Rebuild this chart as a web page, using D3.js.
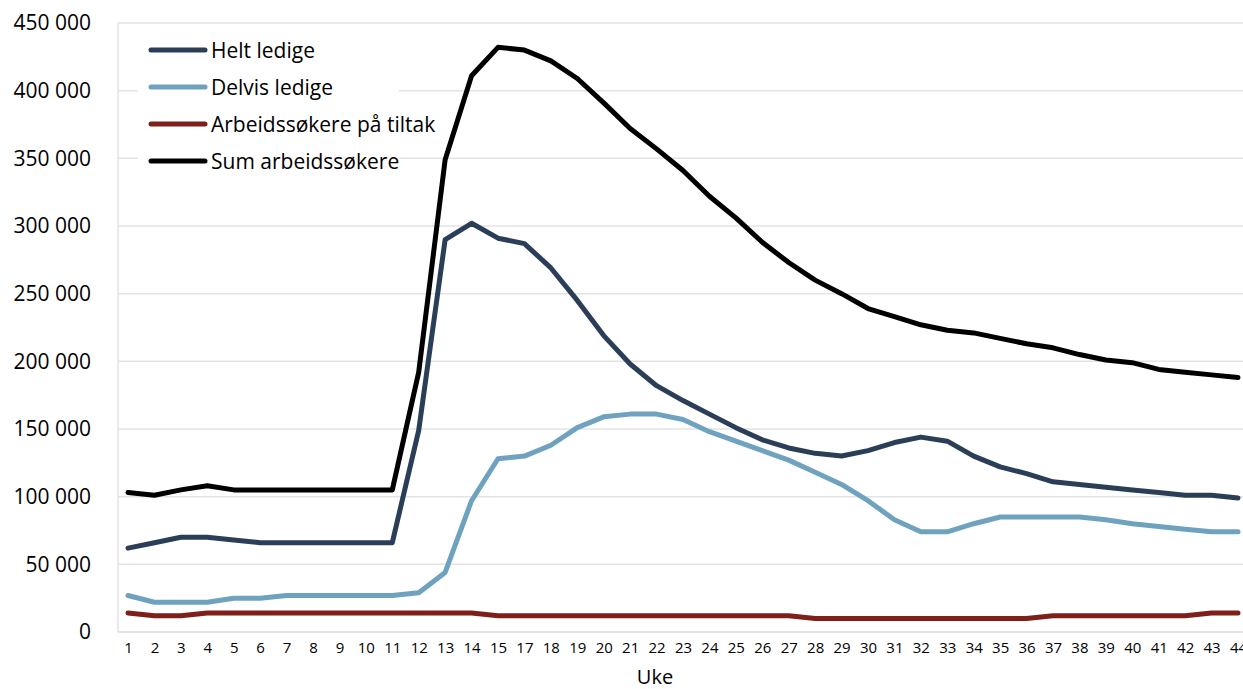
<!DOCTYPE html>
<html>
<head>
<meta charset="utf-8">
<script src="https://cdn.jsdelivr.net/npm/d3@7"></script>
<style>
  html, body { margin: 0; padding: 0; background: #fff; }
  svg { display: block; font-family: "Open Sans", "Noto Sans", sans-serif; }
</style>
</head>
<body>
<svg id="chart" width="1243" height="689"></svg>
<script>
const weeks = ["1","2","3","4","5","6","7","8","9","10","11","12","13","14","15","17","18","19","20","21","22","23","24","25","26","27","28","29","30","31","32","33","34","35","36","37","38","39","40","41","42","43","44"];

const heltLedige = [62000,66000,70000,70000,68000,66000,66000,66000,66000,66000,66000,149000,290000,302000,291000,287000,269000,245000,219000,198000,182000,171000,161000,151000,142000,136000,132000,130000,134000,140000,144000,141000,130000,122000,117000,111000,109000,107000,105000,103000,101000,101000,99000];

const delvisLedige = [27000,22000,22000,22000,25000,25000,27000,27000,27000,27000,27000,29000,44000,97000,128000,130000,138000,151000,159000,161000,161000,157000,148000,141000,134000,127000,118000,109000,97000,83000,74000,74000,80000,85000,85000,85000,85000,83000,80000,78000,76000,74000,74000];

const tiltak = [14000,12000,12000,14000,14000,14000,14000,14000,14000,14000,14000,14000,14000,14000,12000,12000,12000,12000,12000,12000,12000,12000,12000,12000,12000,12000,10000,10000,10000,10000,10000,10000,10000,10000,10000,12000,12000,12000,12000,12000,12000,14000,14000];

const sumArbeidssokere = [103000,101000,105000,108000,105000,105000,105000,105000,105000,105000,105000,192000,349000,411000,432000,430000,422000,409000,391000,372000,357000,341000,322000,306000,288000,273000,260000,250000,239000,233000,227000,223000,221000,217000,213000,210000,205000,201000,199000,194000,192000,190000,188000];

const yTicks = [0,50000,100000,150000,200000,250000,300000,350000,400000,450000];
const seriesNames = ["Helt ledige","Delvis ledige","Arbeidssøkere på tiltak","Sum arbeidssøkere"];
const seriesColors = ["#2b3e57","#6fa2be","#7e1f1c","#000000"];
const xTitle = "Uke";

const series = [heltLedige, delvisLedige, tiltak, sumArbeidssokere];

const svg = d3.select("#chart");
const W = 1243, H = 689;
const plotLeft = 118, plotRight = 1243, plotTop = 23, plotBottom = 632;

const x = d3.scalePoint().domain(weeks).range([128, 1238]);
const y = d3.scaleLinear().domain([0, 450000]).range([plotBottom, plotTop]);

const loc = d3.formatLocale({decimal: ",", thousands: "\u00a0", grouping: [3], currency: ["", ""]});
const fmt = loc.format(",");

// gridlines
svg.append("g").selectAll("line").data(yTicks.filter(d => d > 0)).join("line")
  .attr("x1", plotLeft).attr("x2", plotRight)
  .attr("y1", d => y(d)).attr("y2", d => y(d))
  .attr("stroke", "#e3e3e3").attr("stroke-width", 1.5);

// axes lines
svg.append("line").attr("x1", plotLeft).attr("x2", plotLeft).attr("y1", plotTop).attr("y2", plotBottom)
  .attr("stroke", "#e3e3e3").attr("stroke-width", 1.5);
svg.append("line").attr("x1", plotLeft).attr("x2", plotRight).attr("y1", plotBottom).attr("y2", plotBottom)
  .attr("stroke", "#dcdcdc").attr("stroke-width", 1.5);

// y axis labels
const yAxis = d3.axisLeft(y).tickValues(yTicks).tickFormat(fmt).tickSize(0).tickPadding(0);
const gy = svg.append("g").attr("transform", `translate(91,0)`).call(yAxis);
gy.select(".domain").remove();
gy.selectAll("text").attr("font-size", 21).attr("fill", "#000")
  .attr("font-family", "'Open Sans', 'Noto Sans', sans-serif");

// x axis labels
const xAxis = d3.axisBottom(x).tickSize(0).tickPadding(0);
const gx = svg.append("g").attr("transform", `translate(0,${plotBottom + 10})`).call(xAxis);
gx.select(".domain").remove();
gx.selectAll("text").attr("font-size", 15).attr("fill", "#000")
  .attr("font-family", "'Open Sans', 'Noto Sans', sans-serif");

svg.append("text").attr("x", 655).attr("y", 684).attr("text-anchor", "middle")
  .attr("font-size", 20).attr("fill", "#000").text(xTitle);

// legend background
svg.append("rect").attr("x", 138).attr("y", 30).attr("width", 261).attr("height", 150).attr("fill", "#fff");

// lines
const line = d3.line().x((d, i) => x(weeks[i])).y(d => y(d));
series.forEach((s, k) => {
  svg.append("path").datum(s).attr("d", line)
    .attr("fill", "none").attr("stroke", seriesColors[k]).attr("stroke-width", 5)
    .attr("stroke-linejoin", "round").attr("stroke-linecap", "round");
});

// legend
const lg = svg.append("g");
seriesNames.forEach((n, k) => {
  const yy = 50 + k * 37;
  lg.append("line").attr("x1", 151).attr("x2", 205).attr("y1", yy).attr("y2", yy)
    .attr("stroke", seriesColors[k]).attr("stroke-width", 5).attr("stroke-linecap", "round");
  lg.append("text").attr("x", 211).attr("y", yy).attr("dy", "0.36em")
    .attr("font-size", 21).attr("fill", "#000").text(n);
});
</script>
</body>
</html>
